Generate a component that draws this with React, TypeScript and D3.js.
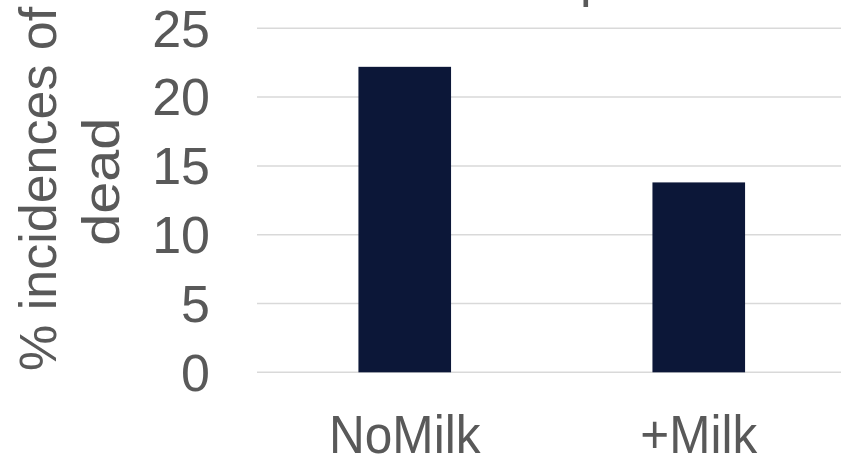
import React from "react";
import * as d3 from "d3";

// Percentage of incidences of dead, by feeding group
const categories: string[] = ["NoMilk", "+Milk"];
const values: number[] = [22.2, 13.8];
const yTicks: number[] = [0, 5, 10, 15, 20, 25];
const yTitleLines: string[] = ["% incidences of", "dead"];
const titleFragment = "p";

// rendered advance widths of the category labels
const categoryTextLength: number[] = [151.5, 116.8];

const W = 841;
const H = 461;
const FONT = "'Liberation Sans', Arial, Helvetica, sans-serif";
const TEXT = "#595959";
const BAR = "#0c1738";
const GRID = "#d9d9d9";

export default function App() {
  const y = d3.scaleLinear().domain([0, 25]).range([372.3, 28.3]);
  const x = d3
    .scaleBand<string>()
    .domain(categories)
    .range([257, 846.5])
    .paddingInner(0.685)
    .paddingOuter(0.345);

  return (
    <div style={{ position: "fixed", left: 0, top: 0, width: W, height: H, background: "#fff" }}>
      <svg width={W} height={H} viewBox={`0 0 ${W} ${H}`} style={{ display: "block" }}>
        <rect x={0} y={0} width={W} height={H} fill="#fff" />

        {/* chart title, mostly above the visible area */}
        <text x={580} y={-4.2} fontFamily={FONT} fontSize={52} fill={TEXT}>
          {titleFragment}
        </text>

        {/* horizontal gridlines */}
        {yTicks.map((t) => (
          <line
            key={`g${t}`}
            x1={257}
            x2={W}
            y1={y(t)}
            y2={y(t)}
            stroke={GRID}
            strokeWidth={1.5}
          />
        ))}

        {/* y tick labels */}
        {yTicks.map((t) => (
          <text
            key={`t${t}`}
            x={210}
            y={y(t) + 18.3}
            textAnchor="end"
            fontFamily={FONT}
            fontSize={52}
            fill={TEXT}
          >
            {t}
          </text>
        ))}

        {/* bars */}
        {categories.map((c, i) => (
          <rect
            key={c}
            x={x(c)}
            y={y(values[i])}
            width={x.bandwidth()}
            height={y(0) - y(values[i])}
            fill={BAR}
          />
        ))}

        {/* category labels */}
        {categories.map((c, i) => (
          <text
            key={`c${c}`}
            x={(x(c) as number) + x.bandwidth() / 2}
            y={452.7}
            textAnchor="middle"
            fontFamily={FONT}
            fontSize={54}
            fill={TEXT}
            textLength={categoryTextLength[i]}
            lengthAdjust="spacingAndGlyphs"
          >
            {c}
          </text>
        ))}

        {/* y axis title, wrapped onto two lines */}
        <g transform="rotate(-90)" fontFamily={FONT} fill={TEXT}>
          <text x={-371} y={55.5} fontSize={52} textAnchor="start">
            {yTitleLines[0]}
          </text>
          <text
            x={-181.7}
            y={118.5}
            fontSize={52}
            textAnchor="middle"
            textLength={128}
            lengthAdjust="spacingAndGlyphs"
          >
            {yTitleLines[1]}
          </text>
        </g>
      </svg>
    </div>
  );
}
